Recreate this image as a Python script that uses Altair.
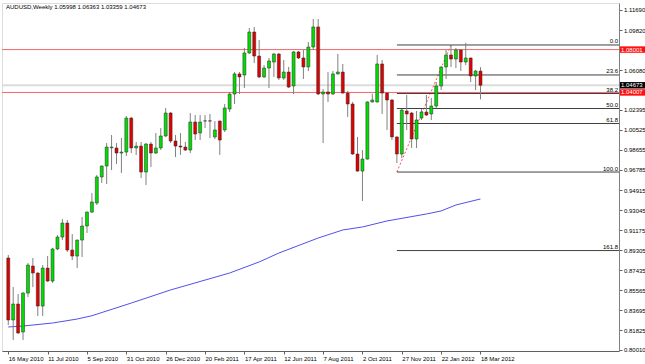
import json
import altair as alt
import pandas as pd

# ---------------- data ----------------
date_labels = ["16 May 2010", "11 Jul 2010", "5 Sep 2010", "31 Oct 2010", "26 Dec 2010",
               "20 Feb 2011", "17 Apr 2011", "12 Jun 2011", "7 Aug 2011", "2 Oct 2011",
               "27 Nov 2011", "22 Jan 2012", "18 Mar 2012"]
date_label_idx = [0, 8, 16, 24, 32, 40, 48, 56, 64, 72, 80, 88, 96]

opens = [0.8858, 0.8280, 0.8429, 0.8168, 0.8531, 0.8783, 0.8718, 0.8410, 0.8764, 0.8643,
         0.8942, 0.9053, 0.9184, 0.8932, 0.8876, 0.9025, 0.9156, 0.9286, 0.9370, 0.9613,
         0.9715, 0.9885, 0.9883, 0.9836, 0.9845, 1.0162, 0.9883, 0.9901, 0.9659, 0.9920,
         0.9836, 0.9883, 0.9995, 1.0209, 0.9948, 0.9901, 0.9892, 0.9864, 1.0125, 1.0023,
         1.0134, 1.0136, 0.9986, 1.0134, 1.0051, 1.0246, 1.0386, 1.0573, 1.0563, 1.0768,
         1.0964, 1.0740, 1.0545, 1.0628, 1.0684, 1.0759, 1.0535, 1.0591, 1.0461, 1.0778,
         1.0722, 1.0638, 1.0824, 1.1011, 1.0386, 1.0405, 1.0386, 1.0573, 1.0591, 1.0395,
         1.0293, 0.9827, 0.9668, 0.9780, 1.0312, 1.0312, 1.0666, 1.0395, 1.0330, 0.9986,
         0.9827, 1.0228, 1.0209, 0.9967, 1.0162, 1.0218, 1.0200, 1.0274, 1.0461, 1.0638,
         1.0750, 1.0712, 1.0796, 1.0684, 1.0722, 1.0554, 1.05998]
highs = [0.8886, 0.8587, 0.8522, 0.8540, 0.8811, 0.8858, 0.8725, 0.8792, 0.8876, 0.8950,
         0.9072, 0.9221, 0.9212, 0.9081, 0.9030, 0.9240, 0.9290, 0.9463, 0.9631, 0.9720,
         0.9929, 1.0004, 0.9929, 0.9976, 1.0181, 1.0172, 0.9939, 0.9939, 0.9929, 0.9939,
         1.0023, 1.0069, 1.0256, 1.0218, 1.0004, 1.0023, 0.9939, 1.0209, 1.0190, 1.0190,
         1.0190, 1.0200, 1.0134, 1.0140, 1.0293, 1.0405, 1.0591, 1.0591, 1.0815, 1.1001,
         1.1011, 1.0889, 1.0656, 1.0722, 1.0768, 1.0768, 1.0703, 1.0638, 1.0787, 1.0787,
         1.0796, 1.0871, 1.1085, 1.1085, 1.0433, 1.0591, 1.0601, 1.0759, 1.0666, 1.0414,
         1.0312, 0.9986, 0.9864, 1.0318, 1.0389, 1.0750, 1.0703, 1.0405, 1.0340, 0.9990,
         1.0246, 1.0377, 1.0218, 1.0228, 1.0246, 1.0377, 1.0349, 1.0498, 1.0645, 1.0796,
         1.0843, 1.0815, 1.0800, 1.0862, 1.0725, 1.0610, 1.06363]
lows = [0.8233, 0.8093, 0.8150, 0.8093, 0.8494, 0.8587, 0.8317, 0.8317, 0.8635, 0.8625,
        0.8932, 0.9025, 0.8914, 0.8839, 0.8764, 0.8867, 0.9091, 0.9277, 0.9352, 0.9557,
        0.9547, 0.9678, 0.9734, 0.9650, 0.9808, 0.9836, 0.9818, 0.9603, 0.9538, 0.9706,
        0.9827, 0.9864, 0.9985, 0.9929, 0.9799, 0.9818, 0.9855, 0.9836, 0.9957, 0.9957,
        1.0069, 0.9976, 0.9967, 0.9818, 1.0032, 1.0218, 1.0293, 1.0386, 1.0442, 1.0759,
        1.0675, 1.0535, 1.0535, 1.0442, 1.0545, 1.0517, 1.0517, 1.0442, 1.0386, 1.0712,
        1.0526, 1.0600, 1.0796, 1.0377, 0.9929, 1.0312, 1.0377, 1.0568, 1.0390, 1.0172,
        0.9818, 0.9662, 0.9389, 0.9775, 1.0305, 1.0305, 1.0200, 1.0051, 0.9957, 0.9743,
        0.9790, 1.0051, 0.9883, 0.9883, 1.0144, 1.0181, 1.0144, 1.0256, 1.0423, 1.0526,
        1.0638, 1.0628, 1.0600, 1.0656, 1.0498, 1.0423, 1.03359]
closes = [0.8280, 0.8429, 0.8159, 0.8531, 0.8792, 0.8718, 0.8410, 0.8764, 0.8643, 0.8942,
          0.9053, 0.9184, 0.8932, 0.8876, 0.9025, 0.9156, 0.9286, 0.9380, 0.9613, 0.9715,
          0.9892, 0.9892, 0.9836, 0.9845, 1.0162, 0.9883, 0.9901, 0.9659, 0.9920, 0.9836,
          0.9883, 0.9995, 1.0209, 0.9948, 0.9901, 0.9892, 0.9864, 1.0125, 1.0013, 1.0125,
          1.0136, 1.0134, 1.0051, 0.9957, 1.0256, 1.0386, 1.0573, 1.0545, 1.0768, 1.0964,
          1.0740, 1.0545, 1.0628, 1.0694, 1.0759, 1.0535, 1.0591, 1.0451, 1.0778, 1.0722,
          1.0638, 1.0824, 1.1011, 1.0386, 1.0405, 1.0386, 1.0573, 1.0591, 1.0395, 1.0293,
          0.9827, 0.9668, 0.9780, 1.0312, 1.0330, 1.0666, 1.0395, 1.0330, 0.9986, 0.9827,
          1.0237, 1.0200, 0.9967, 1.0144, 1.0218, 1.0190, 1.0274, 1.0461, 1.0638, 1.0750,
          1.0712, 1.0796, 1.0684, 1.0722, 1.0554, 1.0600, 1.04673]

ma_idx = [0, 3, 9, 14, 17, 25, 33, 45, 51, 55, 63, 68, 72, 77, 85, 88, 91, 96]
ma_val = [0.8215, 0.8224, 0.8252, 0.8289, 0.8320, 0.8438, 0.8560, 0.8718, 0.8821, 0.8904,
          0.9044, 0.9119, 0.9147, 0.9203, 0.9268, 0.9296, 0.9352, 0.9408]

y_ticks = [1.11690, 1.09820, 1.06080, 1.02395, 1.00525, 0.98655, 0.96785, 0.94915, 0.93045,
           0.91175, 0.89305, 0.87435, 0.85565, 0.83695, 0.81825, 0.80010]

hline_prices = [1.08001, 1.04007]
bid_price = 1.04673

fib_levels = [0.0, 23.6, 38.2, 50.0, 61.8, 100.0, 161.8]
fib_high = 1.0843
fib_low = 0.9659
fib_start = 79
fib_end = 90

header = "AUDUSD,Weekly  1.05998 1.06363 1.03359 1.04673"

# ---------------- frames ----------------
n = len(opens)
df = pd.DataFrame({"i": list(range(n)), "o": opens, "h": highs, "l": lows, "c": closes})
df["top"] = df[["o", "c"]].max(axis=1)
df["bot"] = df[["o", "c"]].min(axis=1)

ma_df = pd.DataFrame({"i": ma_idx, "p": ma_val})
fib_df = pd.DataFrame({
    "lvl": [f"{v:.1f}" for v in fib_levels],
    "p": [fib_high - v / 100.0 * (fib_high - fib_low) for v in fib_levels],
    "i": [fib_start] * len(fib_levels),
})
trend_df = pd.DataFrame({"i": [fib_start, fib_end], "p": [fib_low, fib_high]})
hl_df = pd.DataFrame({"p": hline_prices})
bid_df = pd.DataFrame({"p": [bid_price]})
box_vals = [hline_prices[0], bid_price, hline_prices[1]]
box_df = pd.DataFrame({
    "p": box_vals,
    "txt": [f"{v:.5f}" for v in box_vals],
    "col": ["#ff1010", "#000000", "#ff1010"],
})
box_df["p1"] = box_df["p"] + 0.0030
box_df["p2"] = box_df["p"] - 0.0030

W, H = 617, 348
xs = alt.Scale(domain=[-0.26, 123.14], nice=False, zero=False)
ys = alt.Scale(domain=[0.79912, 1.12342], nice=False, zero=False)

label_expr = "{" + ",".join(f"'{k}':'{v}'" for k, v in zip(date_label_idx, date_labels)) + "}[datum.value]"
x_axis = alt.Axis(values=date_label_idx, labelExpr=label_expr, labelAlign="left",
                  labelFontSize=6, labelPadding=1, tickSize=3, grid=False, title=None,
                  domainColor="#606060", tickColor="#606060", labelColor="#000000",
                  labelOverlap=False, labelFlush=False, labelBound=False, labelOffset=0)
y_axis = alt.Axis(orient="right", values=y_ticks, format=".5f", labelFontSize=6,
                  labelPadding=1.5, tickSize=3, grid=False, title=None,
                  domainColor="#808080", tickColor="#606060", labelColor="#000000",
                  labelOverlap=False, labelFlush=False)


def X(f):
    return alt.X(f, scale=xs, axis=x_axis)


def Y(f):
    return alt.Y(f, scale=ys, axis=y_axis)


bid = alt.Chart(bid_df).mark_rule(color="#dcdcdc", strokeWidth=2).encode(y=Y("p:Q"))
hl = alt.Chart(hl_df).mark_rule(color="#f06868", strokeWidth=1).encode(y=Y("p:Q"))
fib_rules = alt.Chart(fib_df).mark_rule(color="#404040", strokeWidth=1).encode(
    x=X("i:Q"), x2=alt.value(W), y=Y("p:Q"))
fib_text = alt.Chart(fib_df).mark_text(align="right", baseline="bottom", dy=-0.5,
                                       fontSize=6, color="#000000").encode(
    x=alt.value(W - 1), y=Y("p:Q"), text="lvl:N")
trend = alt.Chart(trend_df).mark_line(color="#ff5050", strokeDash=[2, 2], strokeWidth=1).encode(
    x=X("i:Q"), y=Y("p:Q"))
ma = alt.Chart(ma_df).mark_line(color="#5050ee", strokeWidth=1).encode(x=X("i:Q"), y=Y("p:Q"))
wicks = alt.Chart(df).mark_rule(color="#808080", strokeWidth=1).encode(
    x=X("i:Q"), y=Y("l:Q"), y2="h:Q")
bodies = alt.Chart(df).mark_bar(size=3, stroke="#2a2a2a", strokeWidth=0.5).encode(
    x=X("i:Q"), y=Y("bot:Q"), y2="top:Q",
    color=alt.condition("datum.c >= datum.o", alt.value("#00dd00"), alt.value("#e00000")))
boxes = alt.Chart(box_df).mark_rect().encode(
    x=alt.value(W + 1), x2=alt.value(W + 28), y=Y("p1:Q"), y2="p2:Q",
    color=alt.Color("col:N", scale=None))
box_text = alt.Chart(box_df).mark_text(align="left", baseline="middle", fontSize=6,
                                       color="#ffffff").encode(
    x=alt.value(W + 2), y=Y("p:Q"), text="txt:N")
head = alt.Chart(pd.DataFrame({"t": [header]})).mark_text(
    align="left", baseline="middle", fontSize=6, color="#000000").encode(
    x=alt.value(4), y=alt.value(4), text="t:N")

chart = alt.layer(bid, hl, ma, trend, fib_rules, fib_text, wicks, bodies, boxes, box_text, head).properties(
    width=W, height=H,
    autosize=alt.AutoSizeParams(type="none"),
    padding={"left": 2, "top": 3, "right": 26, "bottom": 13},
    background="#ffffff",
).configure_view(stroke="#7a7a7a", strokeWidth=1).configure(font="Liberation Sans")

chart.save("out.html", embed_options={"renderer": "svg", "actions": False})
